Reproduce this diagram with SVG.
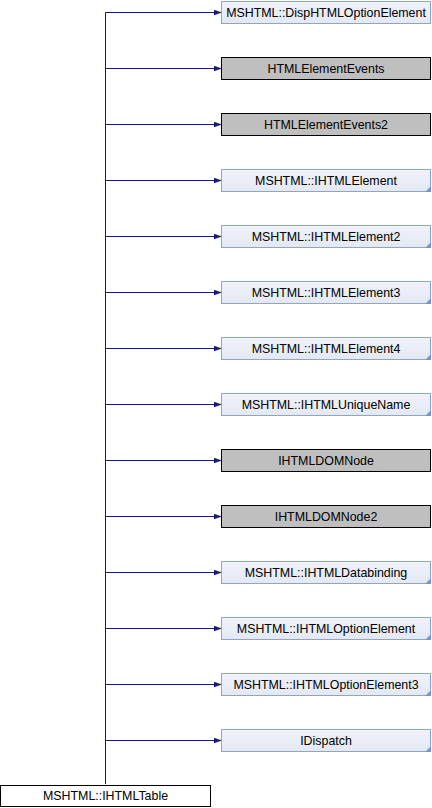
<svg xmlns="http://www.w3.org/2000/svg" width="432" height="808" viewBox="0 0 432 808">
<defs>
<linearGradient id="bg" x1="0" y1="0" x2="0" y2="1">
<stop offset="0" stop-color="#f0f3fa"/>
<stop offset="1" stop-color="#e2e8f4"/>
</linearGradient>
<marker id="ah" markerWidth="8" markerHeight="6" refX="7" refY="3" orient="auto" markerUnits="userSpaceOnUse">
<path d="M0,0.5 L7,3 L0,5.5 Z" fill="#191970" stroke="#191970" stroke-width="0.5"/>
</marker>
</defs>
<style>
.blue rect{fill:url(#bg);stroke:#8ba5d2;stroke-width:1}
.gray rect{fill:#bfbfbf;stroke:#000;stroke-width:1}
.plain rect{fill:#fff;stroke:#000;stroke-width:1}
.fold{fill:#7c97c8}
text{font-family:"Liberation Sans",Arial,sans-serif;font-size:12.4px;text-anchor:middle;fill:#000}
.edge{stroke:#191970;stroke-width:1;fill:none}
</style>
<g id="connectors">
<path class="edge" d="M105.5,784 V12.5"/>
<path class="edge" d="M105.5,12.5 H221" marker-end="url(#ah)"/>
<path class="edge" d="M105.5,68.5 H221" marker-end="url(#ah)"/>
<path class="edge" d="M105.5,124.5 H221" marker-end="url(#ah)"/>
<path class="edge" d="M105.5,180.5 H221" marker-end="url(#ah)"/>
<path class="edge" d="M105.5,236.5 H221" marker-end="url(#ah)"/>
<path class="edge" d="M105.5,292.5 H221" marker-end="url(#ah)"/>
<path class="edge" d="M105.5,348.5 H221" marker-end="url(#ah)"/>
<path class="edge" d="M105.5,404.5 H221" marker-end="url(#ah)"/>
<path class="edge" d="M105.5,460.5 H221" marker-end="url(#ah)"/>
<path class="edge" d="M105.5,516.5 H221" marker-end="url(#ah)"/>
<path class="edge" d="M105.5,572.5 H221" marker-end="url(#ah)"/>
<path class="edge" d="M105.5,628.5 H221" marker-end="url(#ah)"/>
<path class="edge" d="M105.5,684.5 H221" marker-end="url(#ah)"/>
<path class="edge" d="M105.5,740.5 H221" marker-end="url(#ah)"/>
</g>
<g id="n0" class="blue"><rect x="221.5" y="1.5" width="209" height="22"/><text x="326" y="17">MSHTML::DispHTMLOptionElement</text></g>
<g id="n1" class="gray"><rect x="221.5" y="57.5" width="209" height="22"/><text x="326" y="73">HTMLElementEvents</text></g>
<g id="n2" class="gray"><rect x="221.5" y="113.5" width="209" height="22"/><text x="326" y="129">HTMLElementEvents2</text></g>
<g id="n3" class="blue"><rect x="221.5" y="169.5" width="209" height="22"/><path class="fold" d="M431,186 V192 H425 Z"/><text x="326" y="185">MSHTML::IHTMLElement</text></g>
<g id="n4" class="blue"><rect x="221.5" y="225.5" width="209" height="22"/><path class="fold" d="M431,242 V248 H425 Z"/><text x="326" y="241">MSHTML::IHTMLElement2</text></g>
<g id="n5" class="blue"><rect x="221.5" y="281.5" width="209" height="22"/><path class="fold" d="M431,298 V304 H425 Z"/><text x="326" y="297">MSHTML::IHTMLElement3</text></g>
<g id="n6" class="blue"><rect x="221.5" y="337.5" width="209" height="22"/><path class="fold" d="M431,354 V360 H425 Z"/><text x="326" y="353">MSHTML::IHTMLElement4</text></g>
<g id="n7" class="blue"><rect x="221.5" y="393.5" width="209" height="22"/><path class="fold" d="M431,410 V416 H425 Z"/><text x="326" y="409">MSHTML::IHTMLUniqueName</text></g>
<g id="n8" class="gray"><rect x="221.5" y="449.5" width="209" height="22"/><text x="326" y="465">IHTMLDOMNode</text></g>
<g id="n9" class="gray"><rect x="221.5" y="505.5" width="209" height="22"/><text x="326" y="521">IHTMLDOMNode2</text></g>
<g id="n10" class="blue"><rect x="221.5" y="561.5" width="209" height="22"/><path class="fold" d="M431,578 V584 H425 Z"/><text x="326" y="577">MSHTML::IHTMLDatabinding</text></g>
<g id="n11" class="blue"><rect x="221.5" y="617.5" width="209" height="22"/><path class="fold" d="M431,634 V640 H425 Z"/><text x="326" y="633">MSHTML::IHTMLOptionElement</text></g>
<g id="n12" class="blue"><rect x="221.5" y="673.5" width="209" height="22"/><path class="fold" d="M431,690 V696 H425 Z"/><text x="326" y="689">MSHTML::IHTMLOptionElement3</text></g>
<g id="n13" class="blue"><rect x="221.5" y="729.5" width="209" height="22"/><path class="fold" d="M431,746 V752 H425 Z"/><text x="326" y="745">IDispatch</text></g>
<g id="n14" class="plain"><rect x="0.5" y="785.5" width="210" height="21"/><text x="105.5" y="800">MSHTML::IHTMLTable</text></g>
</svg>
